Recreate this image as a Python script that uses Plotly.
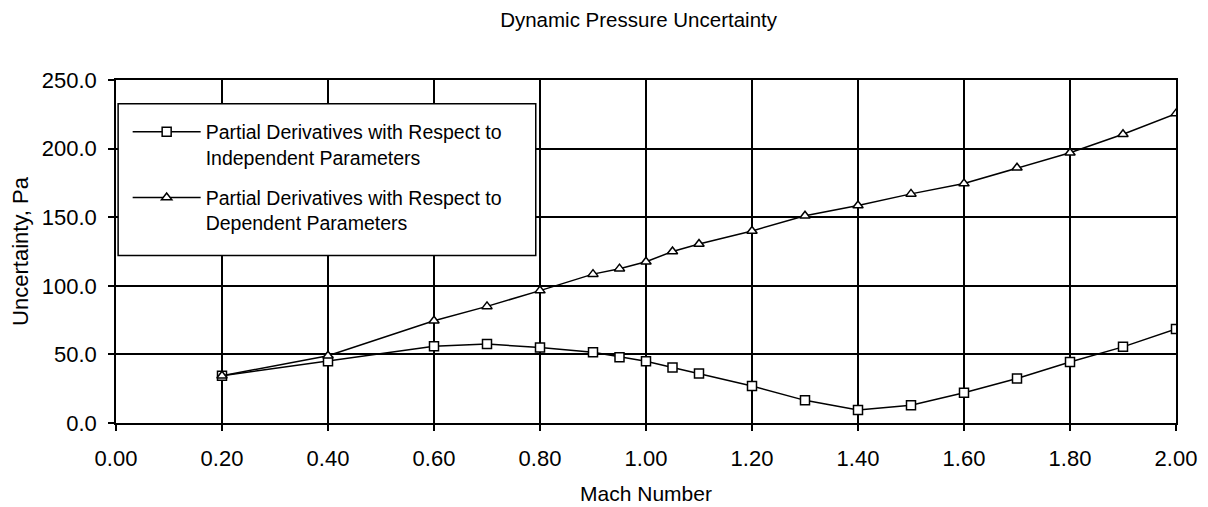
import plotly.graph_objects as go

mach = [0.2, 0.4, 0.6, 0.7, 0.8, 0.9, 0.95, 1.0, 1.05, 1.1, 1.2, 1.3, 1.4, 1.5, 1.6, 1.7, 1.8, 1.9, 2.0]
independent = [34.5, 45, 56, 57.5, 55, 51.5, 48, 45, 40.5, 36, 27, 16.5, 9.5, 13, 22, 32.5, 44.5, 55.5, 68.5]
dependent = [34.5, 49, 74.5, 85, 96.5, 108.5, 112.5, 117.5, 125, 130.5, 140, 151, 158.5, 167, 174.5, 186, 197, 210.5, 225.5]

name_ind = "Partial Derivatives with Respect to<br>Independent Parameters"
name_dep = "Partial Derivatives with Respect to<br>Dependent Parameters"

x_ticks = [0.0, 0.2, 0.4, 0.6, 0.8, 1.0, 1.2, 1.4, 1.6, 1.8, 2.0]
y_ticks = [0, 50, 100, 150, 200, 250]

FONT = "Liberation Sans, Arial, sans-serif"

fig = go.Figure()
fig.add_trace(go.Scatter(
    x=mach, y=independent, name=name_ind, mode="lines+markers",
    line=dict(color="black", width=1.5),
    marker=dict(symbol="square", size=9, color="white", line=dict(color="black", width=1.5)),
    legendgroup="a",
))
fig.add_trace(go.Scatter(
    x=mach, y=dependent, name=name_dep, mode="lines+markers",
    line=dict(color="black", width=1.5),
    marker=dict(symbol="triangle-up", size=9, color="white", line=dict(color="black", width=1.5)),
    legendgroup="b",
))

# legend frame (drawn as a shape so its padding can match the reference)
fig.add_shape(type="rect", xref="paper", yref="paper",
              x0=0.002, x1=0.396, y0=0.488, y1=0.931,
              fillcolor="white", line=dict(color="black", width=1.5), layer="above")

fig.update_layout(
    width=1200, height=499,
    margin=dict(l=108, r=32, t=72, b=84),
    paper_bgcolor="white", plot_bgcolor="white",
    font=dict(family=FONT, color="black", size=20),
    title=dict(text="Dynamic Pressure Uncertainty", x=0.493, xref="paper", xanchor="center",
               y=1 - 12 / 499, yref="container", yanchor="middle", font=dict(size=20.5)),
    showlegend=True,
    legend=dict(
        x=0.011, y=0.905, xanchor="left", yanchor="top",
        bgcolor="rgba(0,0,0,0)", borderwidth=0,
        font=dict(size=19.5), traceorder="grouped", tracegroupgap=12,
        valign="top", itemwidth=68,
    ),
    xaxis=dict(
        range=[0, 2.0], tickvals=x_ticks, ticktext=[f"{v:.2f}" for v in x_ticks],
        showgrid=True, gridcolor="black", gridwidth=1.5,
        showline=True, linecolor="black", linewidth=1.5, mirror=True,
        ticks="outside", ticklen=6, tickcolor="black", tickwidth=1.5,
        tickfont=dict(size=22), ticklabelstandoff=9,
        title=dict(text="Mach Number", font=dict(size=21), standoff=16),
        zeroline=False, automargin=False,
    ),
    yaxis=dict(
        range=[0, 250], tickvals=y_ticks, ticktext=[f"{v:.1f}" for v in y_ticks],
        showgrid=True, gridcolor="black", gridwidth=1.5,
        showline=True, linecolor="black", linewidth=1.5, mirror=True,
        ticks="outside", ticklen=6, tickcolor="black", tickwidth=1.5,
        tickfont=dict(size=22), ticklabelstandoff=7,
        title=dict(text="Uncertainty, Pa", font=dict(size=22), standoff=10),
        zeroline=False, automargin=False,
    ),
)

fig.write_html("out.html")
